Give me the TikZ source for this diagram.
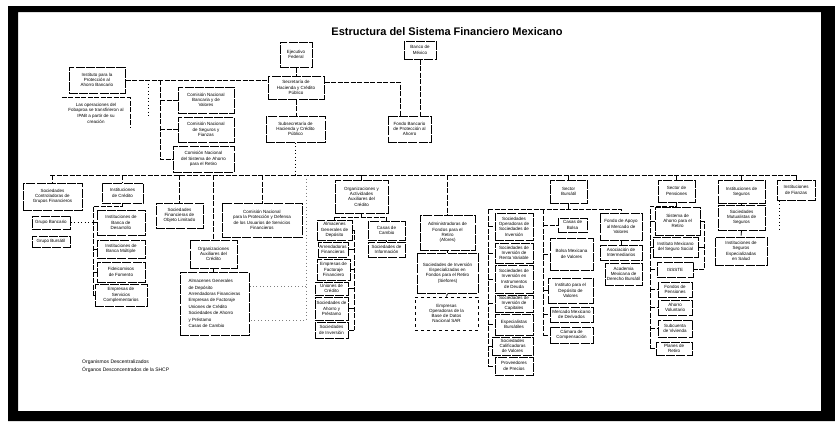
\documentclass[tikz,border=0pt]{standalone}
\usepackage{fontspec}
\setmainfont{Liberation Sans}
\newcommand\mybox[7][]{\node[bx,#1,minimum width={#5-#3},minimum height={#6-#4}] (#2) at ({(#3+#5)/2},{(#4+#6)/2}) {#7};}
\tikzset{
 bx/.style={draw, line width=1pt, dash pattern=on 9pt off 1.2pt, inner sep=1pt, align=center, font=\fontsize{4.5}{5.3}\selectfont, fill=white},
 conn/.style={line width=0.8pt, dash pattern=on 5pt off 1.5pt},
 dots/.style={line width=0.9pt, dash pattern=on 1pt off 2.5pt},
}
\begin{document}
\begin{tikzpicture}[x=1pt,y=-1pt]
\useasboundingbox (0,0) rectangle (835,421);
\fill[white] (0,0) rectangle (835,421);
\fill[black,even odd rule] (8,6) rectangle (835,421) (18,12) rectangle (821,411);
\node[font=\bfseries\fontsize{11}{13}\selectfont] (title) at (447,32) {Estructura del Sistema Financiero Mexicano};

% top
\mybox{EF}{280}{42}{312}{67}{Ejecutivo\\Federal}
\mybox{SHCP}{268}{76}{324}{99}{Secretaría de\\Hacienda y Crédito\\Público}
\mybox{SUB}{266}{116}{325}{142}{Subsecretaría de\\Hacienda y Crédito\\Público}
\mybox{BM}{404}{41}{436}{59}{Banco de\\México}
\mybox{FB}{388}{116}{431}{142}{Fondo Bancario\\de Protección al\\Ahorro}
\mybox{IPAB}{69}{67}{125}{93}{Instituto para la\\Protección al\\Ahorro Bancario}
\node[align=center,font=\fontsize{4.5}{5.6}\selectfont,minimum width=68,minimum height=30,inner sep=1pt] (IPN) at (96,113) {Las operaciones del\\Fobaproa se transfirieron al\\IPAB a partir de su\\creación};
\draw[conn] (IPN.north west) -- (IPN.north east) -- (IPN.south east);
\mybox{CNBV}{178}{87}{234}{113}{Comisión Nacional\\Bancaria y de\\Valores}
\mybox{CNSF}{178}{117}{234}{142}{Comisión Nacional\\de Seguros y\\Fianzas}
\mybox{CONSAR}{173}{146}{234}{172}{Comisión Nacional\\del Sistema de Ahorro\\para el Retiro}

% row
\mybox{SCGF}{23}{183}{82}{210}{Sociedades\\Controladoras de\\Grupos Financieros}
\mybox{GBa}{32}{216}{70}{229}{Grupo Bancario}
\mybox{GBb}{32}{236}{70}{247}{Grupo Bursátil}
\mybox{IC}{102}{183}{143}{203}{Instituciones\\de Crédito}
\mybox{ICa}{97}{210}{145}{235}{Instituciones de\\Banca de\\Desarrollo}
\mybox{ICb}{97}{240}{145}{258}{Instituciones de\\Banca Múltiple}
\mybox{ICc}{97}{262}{145}{282}{Fideicomisos\\de Fomento}
\mybox{ICd}{95}{284}{147}{306}{Empresas de\\Servicios\\Complementarios}
\mybox{SFOL}{156}{203}{203}{228}{Sociedades\\Financieras de\\Objeto Limitado}
\mybox{OA}{190}{240}{237}{268}{Organizaciones\\Auxiliares del\\Crédito}
\mybox[align=left,font=\fontsize{4.5}{6.4}\selectfont]{OAL}{180}{272}{249}{335}{Almacenes Generales\\de Depósito\\Arrendadoras Financieras\\Empresas de Factoraje\\Uniones de Crédito\\Sociedades de Ahorro\\y Préstamo\\Casas de Cambio}
\mybox{CND}{222}{203}{302}{237}{Comisión Nacional\\para la Protección y Defensa\\de los Usuarios de Servicios\\Financieros}
\mybox{OAAC}{335}{180}{388}{213}{Organizaciones y\\Actividades\\Auxiliares del\\Crédito}
\mybox{Oa1}{317}{220}{352}{240}{Almacenes\\Generales de\\Depósito}
\mybox{Oa2}{318}{242}{348}{257}{Arrendadoras\\Financieras}
\mybox{Oa3}{317}{259}{350}{280}{Empresas de\\Factoraje\\Financiero}
\mybox{Oa4}{315}{282}{348}{295}{Uniones de\\Crédito}
\mybox{Oa5}{315}{297}{348}{320}{Sociedades de\\Ahorro y\\Préstamo}
\mybox{Oa6}{315}{322}{348}{338}{Sociedades\\de Inversión}
\mybox{Ob1}{368}{221}{405}{240}{Casas de\\Cambio}
\mybox{Ob2}{368}{242}{405}{257}{Sociedades de\\Información}
\mybox{AFO}{420}{215}{475}{250}{Administradoras de\\Fondos para el\\Retiro\\(Afores)}
\mybox{SIEF}{417}{253}{478}{293}{Sociedades de Inversión\\Especializadas en\\Fondos para el Retiro\\(Siefores)}
\mybox[dashed]{EOBD}{415}{297}{478}{330}{Empresas\\Operadoras de la\\Base de Datos\\Nacional SAR}
\mybox{SB}{550}{180}{587}{203}{Sector\\Bursátil}
\mybox{L1}{495}{213}{533}{240}{Sociedades\\Operadoras de\\Sociedades de\\Inversión}
\mybox{L2}{495}{243}{533}{263}{Sociedades de\\Inversión de\\Renta Variable}
\mybox{L3}{495}{265}{533}{293}{Sociedades de\\Inversión en\\Instrumentos\\de Deuda}
\mybox{L4}{495}{295}{533}{312}{Sociedades de\\Inversión de\\Capitales}
\mybox{L5}{495}{314}{533}{335}{Especialistas\\Bursátiles}
\mybox{L6}{492}{337}{533}{355}{Sociedades\\Calificadoras\\de Valores}
\mybox{L7}{495}{357}{533}{375}{Proveedores\\de Precios}
\mybox{R1}{558}{218}{587}{232}{Casas de\\Bolsa}
\mybox{R2}{550}{238}{593}{270}{Bolsa Mexicana\\de Valores}
\mybox{R3}{548}{278}{593}{303}{Instituto para el\\Depósito de\\Valores}
\mybox{R4}{550}{307}{593}{322}{Mercado Mexicano\\de Derivados}
\mybox{R5}{550}{327}{593}{343}{Cámara de\\Compensación}
\mybox{T1}{600}{213}{642}{240}{Fondo de Apoyo\\al Mercado de\\Valores}
\mybox{T2}{600}{245}{642}{260}{Asociación de\\Intermediarios}
\mybox{T3}{605}{263}{642}{285}{Academia\\Mexicana de\\Derecho Bursátil}
\mybox{SS}{658}{180}{695}{202}{Sector de\\Pensiones}
\mybox{S1}{655}{207}{700}{235}{Sistema de\\Ahorro para el\\Retiro}
\mybox{S2}{653}{237}{698}{257}{Instituto Mexicano\\del Seguro Social}
\mybox{S3}{657}{262}{693}{277}{ISSSTE}
\mybox{S4}{658}{282}{692}{297}{Fondos de\\Pensiones}
\mybox{S5}{658}{300}{692}{315}{Ahorro\\Voluntario}
\mybox{S6}{658}{320}{692}{337}{Subcuenta\\de Vivienda}
\mybox{S7}{656}{342}{692}{355}{Planes de\\Retiro}
\mybox{IS}{718}{180}{765}{203}{Instituciones de\\Seguros}
\mybox{IS2}{718}{205}{765}{230}{Sociedades\\Mutualistas de\\Seguros}
\mybox{IS3}{715}{237}{767}{265}{Instituciones de\\Seguros\\Especializadas\\en Salud}
\mybox{IF}{777}{180}{815}{200}{Instituciones\\de Fianzas}

% connectors top
\draw[conn] (EF.south) -- (EF.south |- SHCP.north);
\draw[conn] (IPAB.east) -- (IPAB.east -| SHCP.west);
\coordinate (ipd) at (148,118);
\draw[dots] (IPAB.east -| ipd) -- (ipd);
\coordinate (cb) at (160,80);
\draw[conn] (cb) |- (CONSAR.west);
\draw[conn] (cb |- CNBV.west) -- (CNBV.west);
\draw[conn] (cb |- CNSF.west) -- (CNSF.west);
\draw[conn] (SHCP.south) -- (SHCP.south |- SUB.north);
\coordinate (fbk) at (400,82);
\draw[conn] (SHCP.east |- fbk) -- (fbk) -- (fbk |- FB.north);
\draw[conn] (BM.south) -- (BM.south |- FB.north);

% bar
\coordinate (barL) at (50,175);
\coordinate (barR) at (797,175);
\draw[conn] (barL) -- (barR);
\draw[dots] (SUB.south) -- (SUB.south |- barL);
\foreach \n in {SCGF,IC,SFOL,OA,CND,OAAC,AFO,SB,SS,IS,IF}
  \draw[conn] (\n.north |- barL) -- (\n.north);

% col 2
\coordinate (icb) at (93,206);
\draw[conn] (IC.south) -- (IC.south |- icb) -- (icb) -- (icb |- ICd.west);
\foreach \n in {ICa,ICb,ICc,ICd} \draw[conn] (icb |- \n.west) -- (\n.west);
\draw[dots] (GBa.east) -- (GBa.east -| icb);
% col 4
\draw[conn] (OA.south) -- (OA.south |- OAL.north);
\coordinate (v6) at (306,175);
\coordinate (v6m) at (306,286);
\coordinate (v6b) at (306,320);
\draw[dots,gray] (v6) -- (v6b) -- (v6b -| OAL.east);
\draw[dots,gray] (v6m) -- (v6m -| OAL.east);
% col OAAC
\coordinate (oah) at (318,217);
\draw[conn] (OAAC.south) -- (OAAC.south |- oah);
\draw[conn] (Oa1.north |- oah) -- (Ob1.north |- oah);
\draw[conn] (Oa1.north |- oah) -- (Oa1.north);
\draw[conn] (Ob1.north |- oah) -- (Ob1.north);
\coordinate (oab) at (354,230);
\draw[conn] (Oa1.east) -- (oab) -- (oab |- Oa6.east);
\foreach \n in {Oa2,Oa3,Oa4,Oa5,Oa6} \draw[conn] (oab |- \n.east) -- (\n.east);
\draw[conn] (Ob1.south) -- (Ob2.north);
% SAR
\draw[conn] (AFO.south) -- (SIEF.north);
\draw[conn] (SIEF.south) -- (EOBD.north);
% bursatil
\coordinate (sbh) at (488,209);
\coordinate (sbr) at (543,209);
\draw[conn] (SB.south) -- (SB.south |- sbh);
\draw[conn] (sbh) -- (T1.north |- sbh) -- (T1.north);
\draw[conn] (sbh) -- (sbh |- L7.west);
\foreach \n in {L1,L2,L3,L4,L5,L6,L7} \draw[conn] (sbh |- \n.west) -- (\n.west);
\draw[conn] (sbr) -- (sbr |- R5.west);
\foreach \n in {R1,R2,R3,R4,R5} \draw[conn] (sbr |- \n.west) -- (\n.west);
\draw[conn] (T1.south) -- (T1.south |- T2.north);
% sector 9
\coordinate (ssb) at (650,206);
\draw[conn] (SS.south) -- (SS.south |- ssb) -- (ssb) -- (ssb |- S7.west);
\foreach \n in {S1,S2,S3,S4,S5,S6,S7} \draw[conn] (ssb |- \n.west) -- (\n.west);
\coordinate (ssr) at (704,221);
\draw[conn] (S1.east) -- (ssr) -- (ssr |- S3.east) -- (S3.east);
\draw[conn] (ssr |- S2.east) -- (S2.east);
% seguros / fianzas
\draw[conn] (IS.south) -- (IS2.north);
\draw[conn] (IS2.south) -- (IS3.north);
\coordinate (ifd) at (779,230);
\draw[dots] (ifd |- IF.south) -- (ifd);

% legend
\node[anchor=west,font=\fontsize{5}{6}\selectfont,inner sep=0] (lg1) at (82,362) {Organismos Descentralizados};
\node[anchor=west,font=\fontsize{5}{6}\selectfont,inner sep=0] (lg2) at (82,370) {Órganos Desconcentrados de la SHCP};
\end{tikzpicture}
\end{document}
